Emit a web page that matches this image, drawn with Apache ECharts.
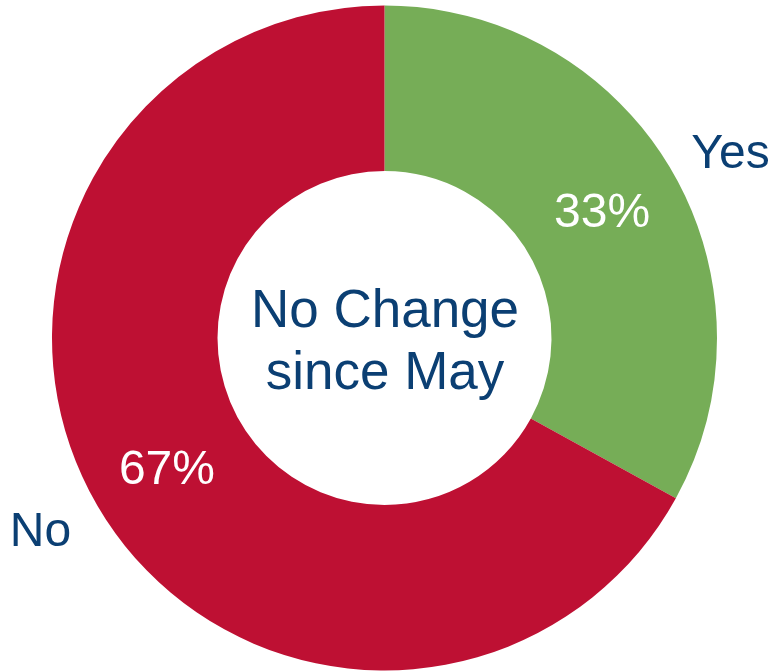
<!DOCTYPE html>
<html>
<head>
<meta charset="utf-8">
<script src="https://cdn.jsdelivr.net/npm/echarts@6/dist/echarts.min.js"></script>
<style>
html,body{margin:0;padding:0;background:#fff;}
#c{width:772px;height:671px;}
</style>
</head>
<body>
<div id="c"></div>
<script>
var categories = ['Yes', 'No'];
var values = [33, 67];
var colors = ['#76AD57', '#BE1033'];
var centerText = 'No Change\nsince May';

var chart = echarts.init(document.getElementById('c'), null, {renderer: 'canvas'});
var labelOffsets = [[6, 18], [-4, -6]];
var font = 'Liberation Sans, Arial, sans-serif';

chart.setOption({
  animation: false,
  backgroundColor: '#ffffff',
  graphic: [{
    type: 'text',
    style: {
      text: centerText,
      x: 385,
      y: 343,
      align: 'center',
      verticalAlign: 'middle',
      font: '53px ' + font,
      lineHeight: 62,
      fill: '#0B3F73'
    }
  }],
  series: [
    {
      type: 'pie',
      center: [384.5, 338],
      radius: [167, 332.5],
      startAngle: 90,
      clockwise: true,
      silent: true,
      emphasis: {disabled: true},
      label: {
        show: true,
        position: 'inside',
        color: '#ffffff',
        fontSize: 48,
        fontFamily: font,
        offset: [0, 4],
        formatter: function (p) { return p.value + '%'; }
      },
      labelLine: {show: false},
      itemStyle: {borderWidth: 0},
      data: categories.map(function (c, i) {
        return {name: c, value: values[i], itemStyle: {color: colors[i]}};
      })
    },
    {
      type: 'pie',
      center: [384.5, 338],
      radius: [384, 400],
      startAngle: 90,
      clockwise: true,
      silent: true,
      emphasis: {disabled: true},
      label: {
        show: true,
        position: 'inside',
        color: '#0B3F73',
        fontSize: 48,
        fontFamily: font,
        formatter: '{b}'
      },
      labelLine: {show: false},
      itemStyle: {color: 'rgba(0,0,0,0)', borderWidth: 0},
      data: categories.map(function (c, i) {
        return {name: c, value: values[i], label: {offset: labelOffsets[i]}};
      })
    }
  ]
});
</script>
</body>
</html>
